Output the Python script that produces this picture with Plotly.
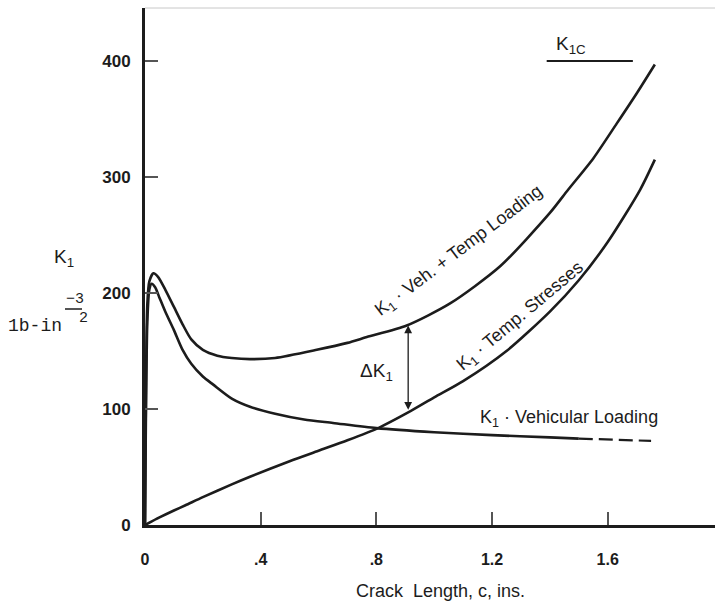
import plotly.graph_objects as go

# --- data ---
veh_temp_x = [0, 0.003, 0.008, 0.015, 0.029, 0.045, 0.07, 0.1, 0.13, 0.16, 0.2, 0.25, 0.3, 0.363,
              0.45, 0.594, 0.7, 0.767, 0.905, 1.055, 1.228, 1.4, 1.463, 1.55, 1.631, 1.7, 1.763]
veh_temp_y = [0, 110, 190, 210, 217, 214, 203, 188, 173, 160, 151, 146, 144, 143,
              144, 151, 157, 162, 172, 191, 223, 269, 289, 316, 346, 372, 397]

temp_x = [0, 0.05, 0.1, 0.14, 0.2, 0.3, 0.363, 0.5, 0.6, 0.7, 0.81, 0.91, 1.0, 1.1,
          1.25, 1.4, 1.5, 1.6, 1.712, 1.763]
temp_y = [0, 6.5, 12.5, 17, 24, 35, 41.6, 55, 64, 73, 84, 97, 110, 124,
          150, 184, 211, 244, 289, 315]

veh_x = [0, 0.003, 0.008, 0.015, 0.023, 0.035, 0.05, 0.07, 0.1, 0.13, 0.16, 0.2, 0.236,
         0.3, 0.363, 0.45, 0.55, 0.65, 0.8, 1.0, 1.2, 1.4, 1.5]
veh_y = [0, 90, 175, 203, 208, 205, 196, 184, 168, 151, 139, 128, 121,
         109, 102, 96, 91, 88, 83.5, 80, 77.5, 75.5, 74.5]

veh_ext_x = [1.5, 1.75]
veh_ext_y = [74.5, 72.5]

k1c_x = [1.389, 1.687]
k1c_y = [400, 400]

x_tickvals = [0, 0.4, 0.8, 1.2, 1.6]
x_ticktext = ["0", ".4", ".8", "1.2", "1.6"]
y_tickvals = [0, 100, 200, 300, 400]
y_ticktext = ["0", "100", "200", "300", "400"]

delta_x = 0.91
delta_low = 98
delta_high = 172

INK = "#1c1c1c"
TXT = "Liberation Sans, Arial, sans-serif"
MONO = "Liberation Mono, Courier New, monospace"

# plot-area geometry (pixels) used to place the out-of-plot labels in paper units
L, R, T, B = 145, 715, 8, 525
def px(xp):
    return (xp - L) / (R - L)
def py(yp):
    return (B - yp) / (B - T)

fig = go.Figure()
line_style = dict(color=INK, width=2.6, shape="spline", smoothing=0.7)
fig.add_trace(go.Scatter(x=veh_temp_x, y=veh_temp_y, mode="lines", line=line_style,
                         hoverinfo="skip", showlegend=False, cliponaxis=False))
fig.add_trace(go.Scatter(x=temp_x, y=temp_y, mode="lines", line=line_style,
                         hoverinfo="skip", showlegend=False, cliponaxis=False))
fig.add_trace(go.Scatter(x=veh_x, y=veh_y, mode="lines", line=line_style,
                         hoverinfo="skip", showlegend=False, cliponaxis=False))
fig.add_trace(go.Scatter(x=veh_ext_x, y=veh_ext_y, mode="lines",
                         line=dict(color=INK, width=2.2, dash="14px,6px"),
                         hoverinfo="skip", showlegend=False))
fig.add_trace(go.Scatter(x=k1c_x, y=k1c_y, mode="lines",
                         line=dict(color=INK, width=2.2),
                         hoverinfo="skip", showlegend=False))

annotations = [
    dict(x=1.086, y=236, text="K<sub>1</sub> · Veh. + Temp Loading", textangle=-37,
         font=dict(size=18, family=TXT, color=INK)),
    dict(x=1.30, y=180, text="K<sub>1</sub> · Temp. Stresses", textangle=-40,
         font=dict(size=18, family=TXT, color=INK)),
    dict(x=1.466, y=92, text="K<sub>1</sub> · Vehicular Loading", textangle=0,
         font=dict(size=18, family=TXT, color=INK)),
    dict(x=0.80, y=132, text="ΔK<sub>1</sub>", font=dict(size=19, family=TXT, color=INK)),
    dict(x=1.474, y=414, text="K<sub>1C</sub>", font=dict(size=19, family=TXT, color=INK)),
    # y-axis label
    dict(x=px(64), y=py(258), xref="paper", yref="paper", text="K<sub>1</sub>",
         font=dict(size=19, family=TXT, color=INK)),
    dict(x=px(35), y=py(326), xref="paper", yref="paper", text="1b-in",
         font=dict(size=18, family=MONO, color=INK)),
    dict(x=px(75), y=py(299), xref="paper", yref="paper", text="−3",
         font=dict(size=15, family=MONO, color=INK)),
    dict(x=px(83), y=py(318), xref="paper", yref="paper", text="2",
         font=dict(size=15, family=MONO, color=INK)),
    # x-axis title
    dict(x=px(441), y=py(591), xref="paper", yref="paper",
         text="Crack&nbsp;&nbsp;Length, c, ins.",
         font=dict(size=18, family=TXT, color=INK)),
    # delta arrow (two heads)
    dict(x=delta_x, y=delta_high, ax=delta_x, ay=delta_low, axref="x", ayref="y",
         text="", showarrow=True, arrowhead=2, arrowsize=1.2, arrowwidth=1.3,
         arrowcolor=INK, arrowside="end+start"),
]
for a in annotations:
    a.setdefault("xref", "x")
    a.setdefault("yref", "y")
    a.setdefault("showarrow", False)
    a.setdefault("xanchor", "center")
    a.setdefault("yanchor", "middle")

shapes = [
    # fraction bar of the exponent
    dict(type="line", xref="paper", yref="paper", x0=px(65), x1=px(82),
         y0=py(309), y1=py(309), line=dict(color=INK, width=1.5)),
    # faint top border
    dict(type="line", xref="paper", yref="paper", x0=0, x1=1, y0=1, y1=1,
         line=dict(color="#c8c8c8", width=1)),
]

fig.update_layout(
    width=715, height=607,
    margin=dict(l=L, r=715 - R, t=T, b=607 - B, autoexpand=False),
    paper_bgcolor="white", plot_bgcolor="white",
    annotations=annotations, shapes=shapes,
    xaxis=dict(range=[0, 1.971], tickvals=x_tickvals, ticktext=x_ticktext,
               ticks="inside", ticklen=13, tickwidth=1.5, tickcolor="#555",
               showline=True, linecolor=INK, linewidth=2.5, showgrid=False, zeroline=False,
               tickfont=dict(size=16, family=TXT, color=INK, weight="bold"),
               ticklabelstandoff=18),
    yaxis=dict(range=[0, 445.7], tickvals=y_tickvals, ticktext=y_ticktext,
               ticks="inside", ticklen=13, tickwidth=1.5, tickcolor="#555",
               showline=True, linecolor=INK, linewidth=3, showgrid=False, zeroline=False,
               tickfont=dict(size=17, family=TXT, color=INK, weight="bold"),
               ticklabelstandoff=8),
)

fig.write_html("out.html", config={"displayModeBar": False},
               post_script="document.body.style.margin='0';document.body.style.overflow='hidden';")
